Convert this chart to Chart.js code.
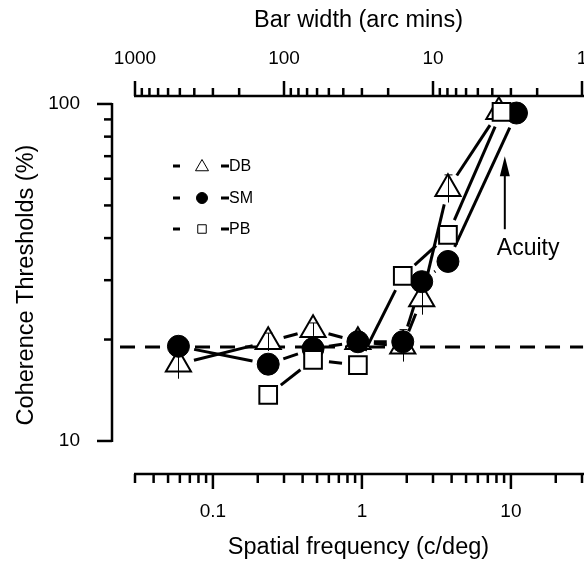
<!DOCTYPE html>
<html>
<head>
<meta charset="utf-8">
<script src="https://cdn.jsdelivr.net/npm/chart.js@4.4.0/dist/chart.umd.min.js"></script>
<style>
  html, body { margin: 0; padding: 0; background: #fff; }
  #wrap { width: 584px; height: 564px; position: relative; }
</style>
</head>
<body>
<div id="wrap"><canvas id="cohChart"></canvas></div>
<script>
// spatial frequency (c/deg) and coherence threshold (%) for each observer
const freqDB = [0.0587, 0.235, 0.47, 0.94, 1.88, 2.52, 3.78, 8.3];
const thrDB  = [16.9, 19.7, 21.4, 19.7, 19.1, 26.4, 56, 94.8];
const errLoDB = [15.3, 18.5, 20.5, 19.2, 17.2, 23.7, 51, null];
const errHiDB = [18.7, 20.9, 22.4, 20.2, 21.4, 29.4, 61.6, null];

const freqSM = [0.0587, 0.235, 0.47, 0.94, 1.88, 2.52, 3.78, 10.9];
const thrSM  = [19.1, 16.9, 18.8, 19.7, 19.7, 29.7, 34.1, 94];

const freqPB = [0.235, 0.47, 0.94, 1.88, 3.78, 8.65];
const thrPB  = [13.7, 17.4, 16.8, 30.9, 40.9, 94.7];

// dashed baseline
const refLevel = 19;
const refFreqs = [0.0238, 30.5];

const seriesNames = ['DB', 'SM', 'PB'];
const xTickVals = [0.1, 1, 10];
const topTickVals = [1000, 100, 10, 1];
const yTickVals = [10, 100];

const acuityFreq = 9.1;
const acuityFrom = 42.5;
const acuityTo = 70;

const FONT = "'Liberation Sans', Arial, Helvetica, sans-serif";
Chart.defaults.font.family = FONT;
Chart.defaults.color = '#000';

function pts(xs, ys) {
  return xs.map((x, i) => ({x: x, y: ys[i]}));
}

// lines between markers, stopped short of each marker
const gapLines = {
  id: 'gapLines',
  afterDatasetDraw(chart, args) {
    if (!chart.data.datasets[args.index].isRef) return;
    const ctx = chart.ctx;
    const g = 16;
    ctx.save();
    ctx.strokeStyle = '#000';
    ctx.lineWidth = 3;
    chart.data.datasets.forEach((ds, i) => {
      if (!ds.joined) return;
      const els = chart.getDatasetMeta(i).data;
      for (let k = 1; k < els.length; k++) {
        const a = els[k - 1], b = els[k];
        const dx = b.x - a.x, dy = b.y - a.y;
        const len = Math.hypot(dx, dy);
        if (len <= 2 * g) continue;
        const ux = dx / len, uy = dy / len;
        ctx.beginPath();
        ctx.moveTo(a.x + ux * g, a.y + uy * g);
        ctx.lineTo(b.x - ux * g, b.y - uy * g);
        ctx.stroke();
      }
    });
    ctx.restore();
  }
};

const errorBars = {
  id: 'errorBars',
  afterDatasetDraw(chart, args) {
    const ds = chart.data.datasets[args.index];
    if (!ds.errLo) return;
    const xs = chart.scales.x, ys = chart.scales.y, ctx = chart.ctx;
    ctx.save();
    ctx.strokeStyle = '#000';
    ctx.lineWidth = 1;
    ds.data.forEach((p, i) => {
      const lo = ds.errLo[i], hi = ds.errHi[i];
      if (lo == null) return;
      const px = Math.round(xs.getPixelForValue(p.x)) + 0.5;
      const y1 = ys.getPixelForValue(lo), y2 = ys.getPixelForValue(hi);
      ctx.beginPath();
      ctx.moveTo(px, y1); ctx.lineTo(px, y2);
      ctx.moveTo(px - 4, y2); ctx.lineTo(px + 4, y2);
      ctx.stroke();
    });
    ctx.restore();
  }
};

const axesMarks = {
  id: 'axesMarks',
  afterDraw(chart) {
    const ctx = chart.ctx, ca = chart.chartArea;
    const xs = chart.scales.x, xt = chart.scales.xTop, ys = chart.scales.y;
    ctx.save();
    ctx.strokeStyle = '#000';
    ctx.lineWidth = 2.5;
    ctx.lineCap = 'butt';
    function seg(x1, y1, x2, y2) {
      ctx.beginPath(); ctx.moveTo(x1, y1); ctx.lineTo(x2, y2); ctx.stroke();
    }
    // bottom axis
    seg(ca.left - 1, ca.bottom, chart.width, ca.bottom);
    [0.01, 0.1, 1, 10].forEach(d => {
      for (let k = 1; k < 10; k++) {
        const v = d * k;
        if (v < 0.0299 || v > 30.01) continue;
        const px = xs.getPixelForValue(v);
        seg(px, ca.bottom, px, ca.bottom + (k === 1 ? 15 : 9));
      }
    });
    // top axis (bar width)
    seg(ca.left - 1, ca.top, chart.width, ca.top);
    [1, 10, 100].forEach(d => {
      for (let k = 1; k <= 10; k++) {
        const v = d * k;
        if (k === 10 && d !== 100) continue;
        const px = xt.getPixelForValue(v);
        const major = (k === 1 || k === 10);
        seg(px, ca.top, px, ca.top - (major ? 15 : 8));
      }
    });
    // left axis, offset from plot
    const ax = ca.left - 23;
    seg(ax, ys.getPixelForValue(100) - 1, ax, ys.getPixelForValue(10) + 1);
    for (let k = 1; k <= 10; k++) {
      const py = ys.getPixelForValue(10 * k);
      seg(ax, py, ax - ((k === 1 || k === 10) ? 15 : 8), py);
    }
    ctx.restore();
  }
};

const sideLegend = {
  id: 'sideLegend',
  afterDraw(chart) {
    const ctx = chart.ctx, ca = chart.chartArea;
    const order = [2, 1, 0];
    const rowY = [70, 102, 133];
    const sizes = {triangle: 7.5, circle: 5.5, rect: 6};
    ctx.save();
    order.forEach((di, r) => {
      const ds = chart.data.datasets[di];
      const y = ca.top + rowY[r];
      const mx = ca.left + 67;
      ctx.fillStyle = '#000';
      ctx.fillRect(ca.left + 38, y - 1.5, 7, 3);
      ctx.fillRect(ca.left + 86, y - 1.5, 8, 3);
      ctx.fillStyle = ds.pointBackgroundColor;
      ctx.strokeStyle = '#000';
      ctx.lineWidth = 1;
      Chart.helpers.drawPoint(ctx, {
        pointStyle: ds.pointStyle, rotation: 0,
        radius: sizes[ds.pointStyle], borderWidth: 1
      }, mx, ds.pointStyle === 'triangle' ? y + 1 : y);
      ctx.fillStyle = '#000';
      ctx.font = '16px ' + FONT;
      ctx.textAlign = 'left';
      ctx.textBaseline = 'middle';
      ctx.fillText(ds.label, ca.left + 94, y + 1);
    });
    ctx.restore();
  }
};

const acuityNote = {
  id: 'acuityNote',
  afterDraw(chart) {
    const ctx = chart.ctx, xs = chart.scales.x, ys = chart.scales.y;
    const ax = xs.getPixelForValue(acuityFreq);
    const tail = ys.getPixelForValue(acuityFrom);
    const tip = ys.getPixelForValue(acuityTo);
    ctx.save();
    ctx.strokeStyle = '#000';
    ctx.fillStyle = '#000';
    ctx.lineWidth = 2;
    ctx.beginPath(); ctx.moveTo(ax, tail); ctx.lineTo(ax, tip + 10); ctx.stroke();
    ctx.beginPath();
    ctx.moveTo(ax, tip); ctx.lineTo(ax - 5, tip + 20); ctx.lineTo(ax + 5, tip + 20);
    ctx.closePath(); ctx.fill();
    ctx.font = '23px ' + FONT;
    ctx.textAlign = 'left';
    ctx.textBaseline = 'middle';
    ctx.fillText('Acuity', ax - 8, tail + 19);
    ctx.restore();
  }
};

const tickFont = {family: FONT, size: 19};
const titleFont = {family: FONT, size: 23.5};

new Chart(document.getElementById('cohChart'), {
  type: 'scatter',
  data: {
    datasets: [
      {label: seriesNames[2], data: pts(freqPB, thrPB), pointStyle: 'rect', pointRadius: 12.5,
       pointBackgroundColor: '#fff', pointBorderColor: '#000', pointBorderWidth: 2, showLine: false, joined: true},
      {label: seriesNames[1], data: pts(freqSM, thrSM), pointStyle: 'circle', pointRadius: 11,
       pointBackgroundColor: '#000', pointBorderColor: '#000', pointBorderWidth: 1, showLine: false, joined: true},
      {label: seriesNames[0], data: pts(freqDB, thrDB), pointStyle: 'triangle', pointRadius: 14.5,
       pointBackgroundColor: '#fff', pointBorderColor: '#000', pointBorderWidth: 2, showLine: false, joined: true,
       errLo: errLoDB, errHi: errHiDB},
      {label: 'ref', data: refFreqs.map(f => ({x: f, y: refLevel})), showLine: true, borderColor: '#000',
       borderWidth: 3, borderDash: [15, 10], pointRadius: 0, clip: false, isRef: true}
    ]
  },
  options: {
    responsive: true,
    maintainAspectRatio: false,
    animation: false,
    layout: {autoPadding: false, padding: {left: 0, right: 2, top: 0, bottom: 0}},
    plugins: {legend: {display: false}, tooltip: {enabled: false}},
    scales: {
      x: {
        type: 'logarithmic', position: 'bottom', min: 0.03, max: 30,
        grid: {display: false, drawTicks: false}, border: {display: false},
        afterBuildTicks: s => { s.ticks = xTickVals.map(v => ({value: v})); },
        ticks: {callback: v => String(v), font: tickFont, color: '#000', padding: 26,
                maxRotation: 0, minRotation: 0, autoSkip: false},
        title: {display: true, text: 'Spatial frequency (c/deg)', font: titleFont, color: '#000',
                padding: {top: 0, bottom: 2}},
        afterFit: s => { s.height = 90; s.paddingLeft = 0; s.paddingRight = 0; }
      },
      xTop: {
        type: 'logarithmic', position: 'top', min: 1, max: 1000, reverse: true,
        grid: {display: false, drawTicks: false}, border: {display: false},
        afterBuildTicks: s => { s.ticks = topTickVals.map(v => ({value: v})); },
        ticks: {callback: v => String(v), font: tickFont, color: '#000', padding: 26,
                maxRotation: 0, minRotation: 0, autoSkip: false},
        title: {display: true, text: 'Bar width (arc mins)', font: titleFont, color: '#000',
                padding: {top: 6, bottom: 0}},
        afterFit: s => { s.height = 96; s.paddingLeft = 0; s.paddingRight = 0; }
      },
      y: {
        type: 'logarithmic', position: 'left', min: 7.98, max: 105.6,
        grid: {display: false, drawTicks: false}, border: {display: false},
        afterBuildTicks: s => { s.ticks = yTickVals.map(v => ({value: v})); },
        ticks: {callback: v => String(v), font: tickFont, color: '#000', padding: 55, autoSkip: false},
        title: {display: true, text: 'Coherence Thresholds (%)', font: titleFont, color: '#000',
                padding: {top: 12, bottom: 0}},
        afterFit: s => { s.width = 135; s.paddingTop = 0; s.paddingBottom = 0; }
      }
    }
  },
  plugins: [gapLines, errorBars, axesMarks, sideLegend, acuityNote]
});
</script>
</body>
</html>
